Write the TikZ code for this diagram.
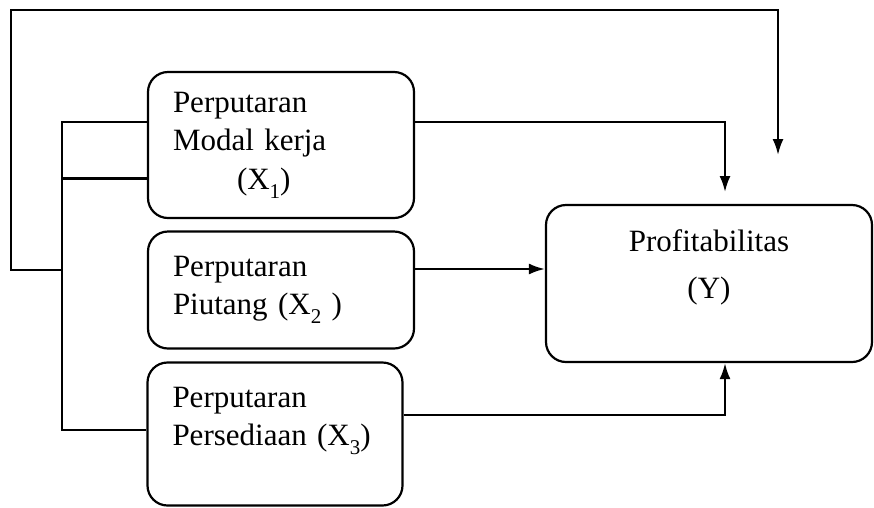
\documentclass[tikz,border=0pt]{standalone}
\usepackage{fontspec}
\setmainfont{Liberation Serif}
\usetikzlibrary{arrows.meta}

\newcommand{\lowsub}[1]{\raisebox{-9pt}{\fontsize{21}{21}\selectfont #1}}
\tikzset{var/.style={draw, rounded corners=20pt, align=left, inner xsep=25pt, inner ysep=0pt}}
\tikzset{arr/.style={-{Latex[length=16pt,width=11pt]}}}

\begin{document}
\begin{tikzpicture}[x=1pt, y=-1pt, line width=2.2pt, font=\fontsize{31}{38.5}\selectfont]%[pixel grid of the sketch]
  \useasboundingbox (0,0) rectangle (874,507);
  \node [var, minimum width=266pt, minimum height=146pt, text width=216pt] (x1) at (281,145)
    {Perputaran\\Modal kerja\\\hspace*{64pt}(X\lowsub{1})};
  \node [var, minimum width=266pt, minimum height=117pt, text width=216pt] (x2) at (281,290)
    {Perputaran\\Piutang (X\lowsub{2} )};
  \node [var, minimum width=254pt, minimum height=143pt, text width=205pt] (x3) at (275,434)
    {Perputaran\\Persediaan (X\lowsub{3})\rule[-35pt]{0pt}{35pt}};
  \node [var, align=center, minimum width=326pt, minimum height=157pt] (y) at (709,283.5)
    {Profitabilitas\\[8pt](Y)\rule[-39pt]{0pt}{39pt}};

  % bus on the left
  \coordinate (busTop) at (62,122);
  \coordinate (busMid) at (62,178);
  \coordinate (busJoin) at (62,270);
  \coordinate (busBot) at (62,430);
  \coordinate (loopEnd) at (778,155);
  \coordinate (x1End) at (725,192);

  \draw (busTop -| x1.west) -- (busTop) -- (busBot) -- (busBot -| x3.west);
  \draw [line width=3pt] (busMid) -- (busMid -| x1.west);
  \draw [arr] (busJoin) -- (11,270) -- (11,10) -| (loopEnd);

  \draw [arr] (x1.east |- busTop) -| (x1End);
  \draw [arr] (x2.east |- 0,269) -- (y.west |- 0,269);
  \draw [arr] (x3.east |- 0,415) -| (y.south -| x1End);
\end{tikzpicture}
\end{document}
